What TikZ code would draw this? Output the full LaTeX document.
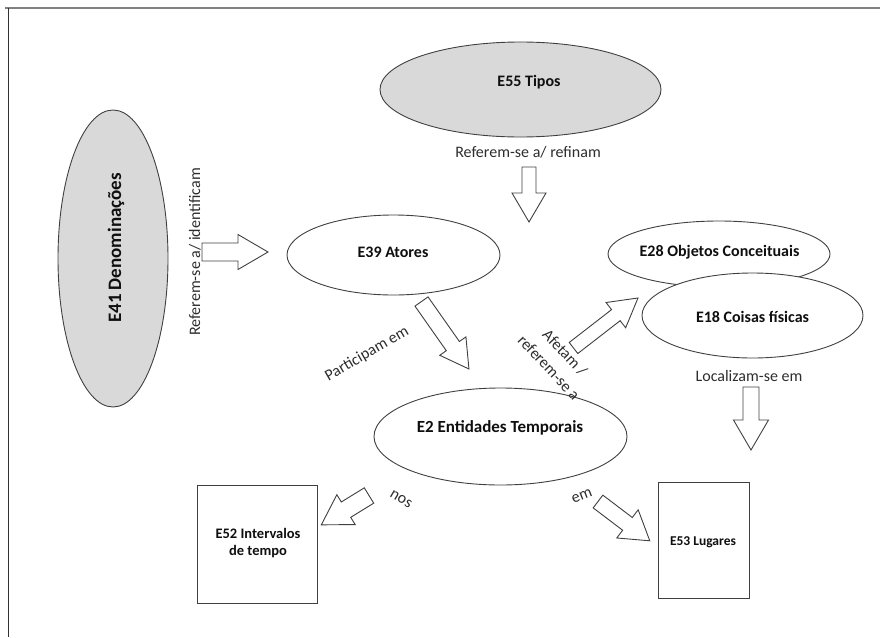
\documentclass[tikz,border=0pt]{standalone}
\usepackage{fontspec}
\setmainfont{Carlito}
\newfontfamily\lblfont{Carlito}
\newfontfamily\capfont{Carlito}
\usetikzlibrary{shapes.geometric}

\definecolor{shade}{RGB}{217,217,217}
\definecolor{edge}{RGB}{64,64,64}
\definecolor{ink}{RGB}{15,15,15}
\definecolor{labelink}{RGB}{45,45,45}
\definecolor{framegray}{RGB}{128,128,128}
\definecolor{framedark}{RGB}{50,50,50}

% block arrow: name, tail centre, angle, length, head length, shaft half width, head half width
\newcommand{\blockarrow}[7]{%
  \coordinate (#1) at (#2);
  \draw[barrow, shift={(#1)}, rotate=#3]
    (0,-#6) -- (#4-#5,-#6) -- (#4-#5,-#7) -- (#4,0) -- (#4-#5,#7) -- (#4-#5,#6) -- (0,#6) -- cycle;}

\begin{document}
\begin{tikzpicture}[x=1pt,y=-1pt,
  every node/.style={inner sep=0pt, outer sep=0pt},
  entity/.style={ellipse, draw=edge, line width=0.9pt, fill=white},
  grayentity/.style={entity, fill=shade},
  entitybox/.style={rectangle, draw=edge, line width=0.9pt, fill=white},
  title/.style={font=\capfont\bfseries\fontsize{16}{19}\selectfont, text=ink},
  smalltitle/.style={font=\capfont\bfseries\fontsize{14.5}{17}\selectfont, text=ink, align=center},
  rel/.style={font=\lblfont\fontsize{16}{19}\selectfont, text=labelink},
  barrow/.style={draw=edge, fill=white, line width=0.9pt, line join=miter}
]
\useasboundingbox (0,0) rectangle (880,637);

% page frame
\draw[framegray, line width=2pt] (5,7.8) -- (880,7.8);
\draw[framedark, line width=1.4pt] (8.3,8) -- (8.3,637);

% entities
\node[grayentity, minimum width=281pt, minimum height=95pt] (e55) at (520.5,89.5) {};
\node[title] (e55t) at (529,82) {E55 Tipos};

\node[grayentity, minimum width=110pt, minimum height=297pt] (e41) at (113,258.5) {};
\node[title, font=\capfont\bfseries\fontsize{19}{22}\selectfont, rotate=90] (e41t) at (116,248) {E41 Denominações};

\node[entity, minimum width=213pt, minimum height=80pt] (e39) at (393.5,255) {};
\node[title] (e39t) at (393,252) {E39 Atores};

\node[entity, minimum width=222pt, minimum height=66pt] (e28) at (719,254) {};
\node[title] (e28t) at (719.5,252) {E28 Objetos Conceituais};

\node[entity, minimum width=221pt, minimum height=85pt] (e18) at (752.5,315.5) {};
\node[title] (e18t) at (752.5,317) {E18 Coisas físicas};

\node[entity, minimum width=253pt, minimum height=97pt] (e2) at (500.5,436.5) {};
\node[title, font=\capfont\bfseries\fontsize{17}{20}\selectfont] (e2t) at (500,428) {E2 Entidades Temporais};

\node[entitybox, minimum width=120pt, minimum height=118pt] (e52) at (257,544) {};
\node[smalltitle] (e52t) at (258,543) {E52 Intervalos\\de tempo};

\node[entitybox, minimum width=91pt, minimum height=116pt] (e53) at (703.5,540) {};
\node[smalltitle, font=\capfont\bfseries\fontsize{13.5}{16}\selectfont] (e53t) at (703,542) {E53 Lugares};

% relation arrows
\blockarrow{a55}{529,167}{-90}{55}{29}{7}{17}
\blockarrow{a41}{202,252}{0}{66}{30}{9}{17.5}
\blockarrow{a39}{421.5,301.5}{-54.9}{82.5}{28}{8}{16}
\blockarrow{a2up}{573.5,348}{37.8}{81.6}{28}{7}{16}
\blockarrow{a2nos}{369,495.5}{-148.4}{56}{29}{9}{17.5}
\blockarrow{a2em}{598,501.5}{-37.2}{65}{28}{8}{17.7}
\blockarrow{a18}{751,387}{-90}{63}{30}{8}{17.5}

% relation labels
\node[rel] (l55) at (528,152) {Referem-se a/ refinam};
\node[rel, rotate=90] (l41) at (195,252) {Referem-se a/ identificam};
\node[rel, rotate=30] (l39) at (367,354) {Participam em};
\node[rel, font=\lblfont\fontsize{16}{22}\selectfont, rotate=-47, align=center] (l2up) at (557,360) {Afetam /\\referem-se a};
\node[rel, rotate=-31] (lnos) at (401,499) {nos};
\node[rel, rotate=21] (lem) at (582,496) {em};
\node[rel] (l18) at (749,376) {Localizam-se em};
\end{tikzpicture}
\end{document}
